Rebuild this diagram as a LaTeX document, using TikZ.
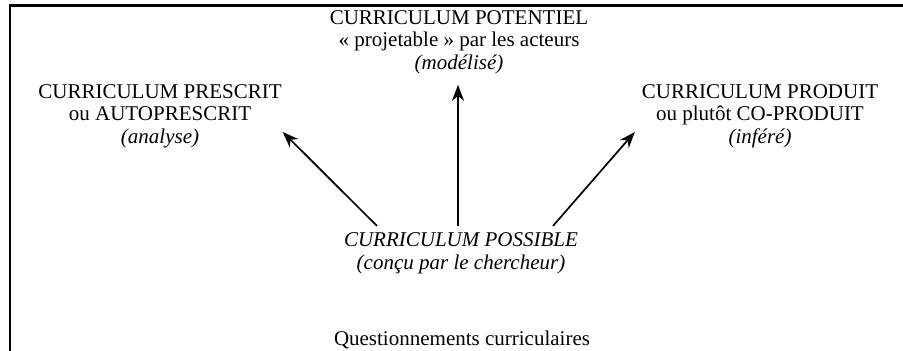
\documentclass[tikz,border=0pt]{standalone}
\usepackage{fontspec}
\setmainfont{Liberation Serif}
\usetikzlibrary{positioning, arrows.meta}

\begin{document}
\begin{tikzpicture}[
        curbox/.style={align=center, font=\fontsize{10.5}{11.3}\selectfont},
        arr/.style={-{Stealth[length=8pt, width=6pt, inset=2.5pt]}, line width=0.85pt},
        frameline/.style={line width=1.2pt},
    ]
        \useasboundingbox (0,0) rectangle (451.5pt,175.5pt);

        % Frame (only top and left edges show)
        \coordinate (fbl) at (5pt,0);
        \coordinate (ftl) at (5pt,172.75pt);
        \coordinate (ftr) at (451.5pt,172.75pt);
        \draw[frameline] (fbl) -- (ftl) -- (ftr);

        % Curricula
        \node[curbox] (pot) at (229.5pt,154.5pt) {CURRICULUM POTENTIEL\\« projetable » par les acteurs\\\textit{(modélisé)}};
        \node[curbox] (pres) at (80pt,117.5pt) {CURRICULUM PRESCRIT\\ou AUTOPRESCRIT\\\textit{(analyse)}};
        \node[curbox] (prod) at (380pt,117.5pt) {CURRICULUM PRODUIT\\ou plutôt CO-PRODUIT\\\textit{(inféré)}};

        % Possible curriculum (centre)
        \node[curbox, font=\fontsize{10.5}{11.3}\selectfont\itshape] (poss) at (230.5pt,48.75pt) {CURRICULUM POSSIBLE\\(conçu par le chercheur)};

        % Caption
        \node[curbox] (quest) at (231pt,5.5pt) {Questionnements curriculaires};

        % Arrows
        \draw[arr] ([xshift=-42pt]poss.north) -- ([xshift=-3pt, yshift=-8pt]pres.east);
        \draw[arr] ([xshift=-1.5pt]poss.north) -- ([xshift=-0.5pt, yshift=-2pt]pot.south);
        \draw[arr] ([xshift=46pt]poss.north) -- ([yshift=-8pt]prod.west);
    \end{tikzpicture}
\end{document}
